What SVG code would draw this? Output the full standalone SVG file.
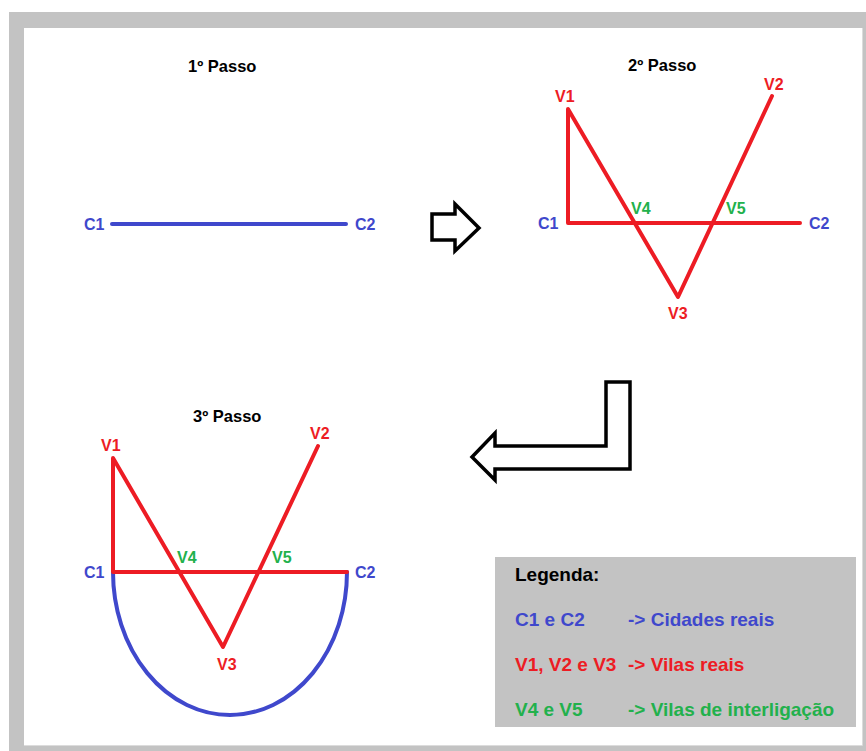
<svg xmlns="http://www.w3.org/2000/svg" width="866" height="751" viewBox="0 0 866 751">
<style>
text{font-family:"Liberation Sans",Arial,sans-serif;font-weight:bold;}
.t{font-size:16.5px;fill:#000;}
.l{font-size:16px;}
.b{fill:#3f48cc;}
.r{fill:#ed1c24;}
.g{fill:#22b14c;}
.lg{font-size:19px;}
.red{stroke:#ed1c24;stroke-width:4;fill:none;stroke-linecap:round;stroke-linejoin:round;}
.blue{stroke:#3f48cc;stroke-width:4;fill:none;stroke-linecap:round;}
.arrow{fill:#fff;stroke:#000;stroke-width:3.5;stroke-linejoin:miter;}
</style>
<rect x="0" y="0" width="866" height="751" fill="#fff"/>
<rect x="9" y="12" width="857" height="739" fill="#c3c3c3"/>
<rect x="24" y="28" width="838" height="717" fill="#fff"/>
<path d="M862.5 28V745.5H24" stroke="#dcdcdc" stroke-width="1" fill="none"/>

<g id="step1">
<text class="t" x="188" y="72">1º Passo</text>
<line class="blue" x1="112" y1="224" x2="346" y2="224"/>
<text class="l b" x="84" y="230">C1</text>
<text class="l b" x="355" y="230">C2</text>
</g>

<g id="arrow-right">
<polygon class="arrow" points="432,214 455,214 455,204 479,228 455,251 455,240 432,240"/>
</g>

<g id="step2">
<text class="t" x="628" y="71">2º Passo</text>
<g id="connectors2">
<polyline class="red" points="800,223 568,223 568,109 678,297 772,96"/>
</g>
<text class="l r" x="555" y="102">V1</text>
<text class="l r" x="764" y="90">V2</text>
<text class="l r" x="668" y="319">V3</text>
<text class="l g" x="631" y="214">V4</text>
<text class="l g" x="726" y="214">V5</text>
<text class="l b" x="538" y="229">C1</text>
<text class="l b" x="809" y="229">C2</text>
</g>

<g id="arrow-bent">
<polygon class="arrow" points="606,382 630,382 630,469 495,469 495,480 472,457 495,433 495,446 606,446"/>
</g>

<g id="step3">
<text class="t" x="193" y="422">3º Passo</text>
<g id="connectors3">
<path class="blue" d="M113,572 A117,143 0 0 0 347,572"/>
<polyline class="red" points="347,572 113,572 113,458 223,647 318,446"/>
</g>
<text class="l r" x="101" y="451">V1</text>
<text class="l r" x="310" y="439">V2</text>
<text class="l r" x="217" y="670">V3</text>
<text class="l g" x="177" y="563">V4</text>
<text class="l g" x="272" y="563">V5</text>
<text class="l b" x="84" y="578">C1</text>
<text class="l b" x="355" y="578">C2</text>
</g>

<g id="legend">
<rect x="495" y="557" width="361" height="170" fill="#c3c3c3"/>
<text class="lg" x="515" y="581" fill="#000">Legenda:</text>
<text class="lg b" x="515" y="626">C1 e C2</text>
<text class="lg b" x="628" y="626">-&gt; Cidades reais</text>
<text class="lg r" x="515" y="671">V1, V2 e V3</text>
<text class="lg r" x="628" y="671">-&gt; Vilas reais</text>
<text class="lg g" x="515" y="716">V4 e V5</text>
<text class="lg g" x="628" y="716">-&gt; Vilas de interligação</text>
</g>
</svg>
